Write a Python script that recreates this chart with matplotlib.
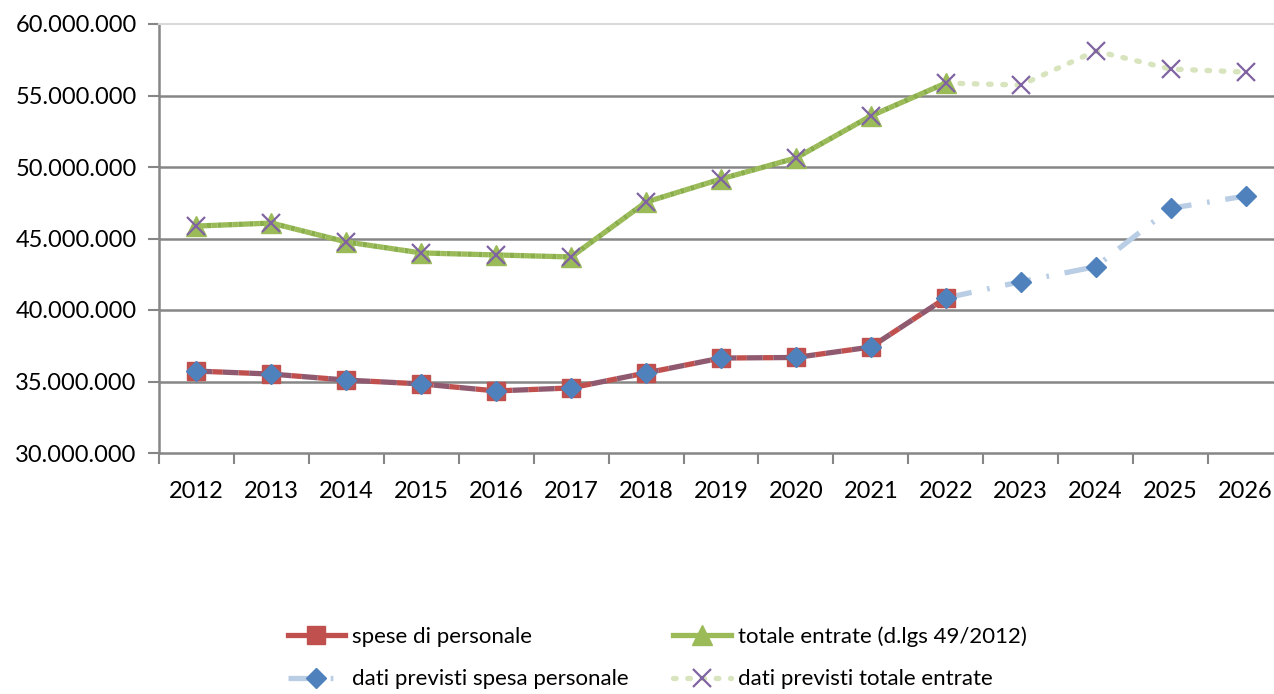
import numpy as np
import matplotlib.pyplot as plt
from matplotlib.ticker import FuncFormatter

anni = ['2012', '2013', '2014', '2015', '2016', '2017', '2018', '2019',
        '2020', '2021', '2022', '2023', '2024', '2025', '2026']
spese = [35.73, 35.52, 35.10, 34.83, 34.34, 34.55, 35.60, 36.64, 36.68, 37.41, 40.84]
entrate = [45.87, 46.08, 44.76, 43.99, 43.85, 43.71, 47.55, 49.16, 50.63, 53.57, 55.87]
prev_spese = [35.73, 35.52, 35.10, 34.83, 34.34, 34.55, 35.60, 36.64, 36.68, 37.41, 40.84,
              41.98, 43.03, 47.11, 47.97]
prev_entrate = [45.87, 46.08, 44.76, 43.99, 43.85, 43.71, 47.55, 49.16, 50.63, 53.57, 55.87,
                55.73, 58.11, 56.85, 56.64]

plt.rcParams['font.family'] = ['Lato', 'DejaVu Sans']

fig = plt.figure(figsize=(12.74, 6.94), dpi=100)
ax = fig.add_axes([159 / 1274, 1 - 453 / 694, (1283 - 159) / 1274, (453 - 24) / 694])

x = np.arange(len(anni))
k = len(spese)
M = 1e6
sp = np.array(spese) * M
en = np.array(entrate) * M
ps = np.array(prev_spese) * M
pe = np.array(prev_entrate) * M

for v in range(35, 60, 5):
    ax.axhline(v * M, color='#868686', lw=1.8, zorder=1)

# storico
ax.plot(x[:k], sp, color='#8f5a6f', lw=3.8, ls=(0, (3, 2)), gapcolor='#c0504d',
        zorder=3)
ax.plot(x[:k], sp, ls='none', marker='s', ms=13, color='#c0504d', zorder=4)
ax.plot(x[:k], en, color='#8aaf4a', lw=3.8, ls=(0, (0.8, 1.2)), gapcolor='#9bbb59',
        zorder=3)
ax.plot(x[:k], en, ls='none', marker='^', ms=14, color='#9bbb59', zorder=4)

# previsioni
ax.plot(x[k - 1:], ps[k - 1:], color='#b9cde5', lw=3.8, ls=(0, (5, 3, 0.5, 3)),
        zorder=3)
ax.plot(x[k - 1:], pe[k - 1:], color='#d7e4bd', lw=3.8, ls=(0, (0.5, 2.2)),
        dash_capstyle='round', zorder=3)
ax.plot(x, ps, ls='none', marker='D', ms=10, color='#4f81bd', zorder=5)
ax.plot(x, pe, ls='none', marker='x', ms=13, mew=1.6, color='#8064a2', zorder=5)

ax.set_xlim(-0.5, len(anni) - 0.5)
ax.set_ylim(30 * M, 60 * M)
ax.set_yticks(np.arange(30, 61, 5) * M)
ax.yaxis.set_major_formatter(FuncFormatter(lambda v, p: f'{v:,.0f}'.replace(',', '.')))
ax.set_xticks(x)
ax.set_xticklabels(anni)
ax.set_xticks(np.arange(-0.5, len(anni), 1), minor=True)
ax.tick_params(axis='x', which='major', length=0, pad=20, labelsize=17)
ax.tick_params(axis='x', which='minor', length=8, width=1.5, color='#868686')
ax.tick_params(axis='y', length=8, width=1.5, color='#868686', labelsize=17, pad=8)

for s in ['left', 'bottom']:
    ax.spines[s].set_color('#868686')
    ax.spines[s].set_linewidth(1.8)
ax.spines['top'].set_color('#d9d9d9')
ax.spines['top'].set_linewidth(1.5)
ax.spines['right'].set_visible(False)

h1 = plt.Line2D([], [], color='#c0504d', lw=3.8, marker='s', ms=13)
h2 = plt.Line2D([], [], color='#9bbb59', lw=3.8, marker='^', ms=14)
h3 = plt.Line2D([], [], color='#b9cde5', lw=3.8, ls=(0, (5, 3, 0.5, 3)), marker='D',
                ms=10, mfc='#4f81bd', mec='#4f81bd')
h4 = plt.Line2D([], [], color='#d7e4bd', lw=3.8, ls=(0, (0.5, 2.2)), marker='x', ms=13,
                mew=1.6, mec='#8064a2', dash_capstyle='round')
fig.legend([h1, h3, h2, h4],
           ['spese di personale', 'dati previsti spesa personale',
            'totale entrate (d.lgs 49/2012)', 'dati previsti totale entrate'],
           ncol=2, loc='center left', bbox_to_anchor=(272 / 1274, 1 - 658 / 694),
           frameon=False, fontsize=16, handlelength=2.6, handletextpad=0.3,
           columnspacing=2.0, labelspacing=1.0, borderpad=0.2)

plt.savefig('out.png', dpi=100)
